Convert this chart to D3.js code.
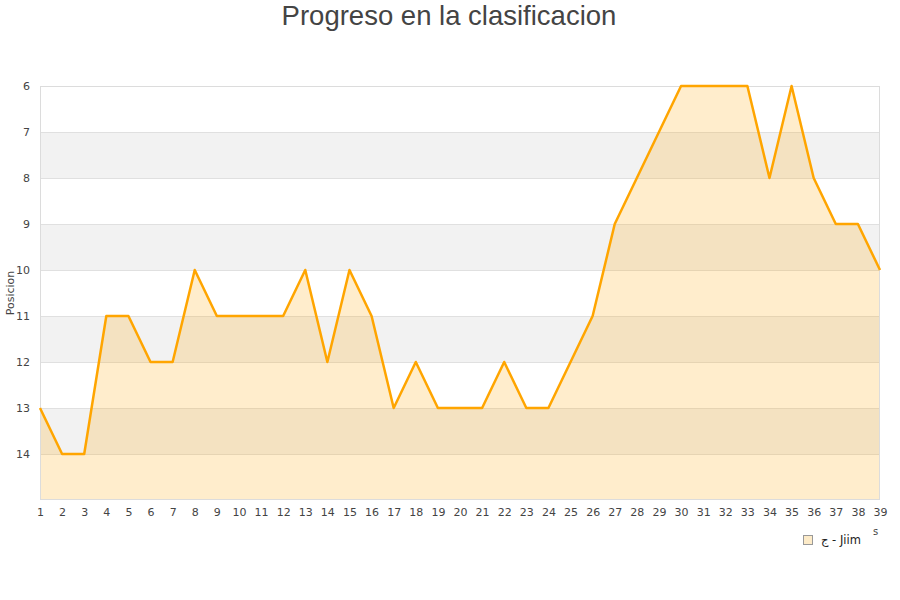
<!DOCTYPE html>
<html><head><meta charset="utf-8">
<script src="https://cdn.jsdelivr.net/npm/d3@7"></script>
<style>body{margin:0;background:#fff;} svg{display:block;}</style>
</head><body>
<svg id="c" width="900" height="600"></svg>
<script>
const rounds = d3.range(1, 40);
const positions = [13,14,14,11,11,12,12,10,11,11,11,11,10,12,10,11,13,12,13,13,13,12,13,13,12,11,9,8,7,6,6,6,6,8,6,8,9,9,10];
const yTicks = [6,7,8,9,10,11,12,13,14];
const seriesName = "ج - Jiim";
const title = "Progreso en la clasificacion";
const yTitle = "Posicion";

const svg = d3.select("#c");
const m = {l:40, r:880, t:86, b:500};
const x = d3.scaleLinear().domain([1,39]).range([m.l, m.r]);
const y = d3.scaleLinear().domain([6,15]).range([m.t, m.b]);

const bands = d3.range(6,15);
svg.selectAll("rect.band").data(bands).enter().append("rect")
  .attr("x", m.l).attr("width", m.r-m.l)
  .attr("y", d=>y(d)).attr("height", d=>y(d+1)-y(d))
  .attr("fill", (d,i)=> i%2===1 ? "#f2f2f2" : "#ffffff");
svg.selectAll("line.grid").data(yTicks).enter().append("line")
  .attr("x1", m.l).attr("x2", m.r).attr("y1", d=>y(d)).attr("y2", d=>y(d))
  .attr("stroke", "#e0e0e0").attr("stroke-width", 1).attr("shape-rendering","crispEdges");

const data = rounds.map((r,i)=>({r, p: positions[i]}));
const area = d3.area().x(d=>x(d.r)).y0(y(15)).y1(d=>y(d.p));
svg.append("path").datum(data).attr("d", area).attr("fill", "rgba(255,165,0,0.2)");
svg.append("rect").attr("x", m.l+0.5).attr("y", m.t+0.5).attr("width", m.r-m.l-1).attr("height", m.b-m.t-1)
  .attr("fill","none").attr("stroke","#dcdcdc").attr("stroke-width",1);
const line = d3.line().x(d=>x(d.r)).y(d=>y(d.p));
svg.append("path").datum(data).attr("d", line).attr("fill","none")
  .attr("stroke","#FFA500").attr("stroke-width",2.5).attr("stroke-linejoin","round");

const yAxis = d3.axisLeft(y).tickValues(yTicks).tickSize(0).tickPadding(10);
const gy = svg.append("g").attr("transform", `translate(${m.l},0)`).call(yAxis);
gy.select(".domain").remove();
gy.selectAll("text").attr("font-family","DejaVu Sans, sans-serif").attr("font-size",11).attr("fill","#444");

const xAxis = d3.axisBottom(x).tickValues(rounds).tickFormat(d3.format("d")).tickSize(0).tickPadding(8);
const gx = svg.append("g").attr("transform", `translate(0,${m.b})`).call(xAxis);
gx.select(".domain").remove();
gx.selectAll("text").attr("font-family","DejaVu Sans, sans-serif").attr("font-size",11).attr("fill","#444");

svg.append("text").attr("x",449).attr("y",25).attr("text-anchor","middle")
  .attr("font-family","Liberation Sans, Arial, sans-serif").attr("font-size",27.5).attr("fill","#444").text(title);
svg.append("text").attr("transform","translate(14,293) rotate(-90)").attr("text-anchor","middle")
  .attr("font-family","DejaVu Sans, sans-serif").attr("font-size",11).attr("fill","#444").text(yTitle);

svg.append("rect").attr("x",803.5).attr("y",535.5).attr("width",9).attr("height",9)
  .attr("fill","#fdebc8").attr("stroke","#999").attr("stroke-width",1);
svg.append("text").attr("x",821).attr("y",544).attr("font-family","DejaVu Sans, sans-serif")
  .attr("font-size",11.5).attr("fill","#222").text(seriesName);
svg.append("text").attr("x",873).attr("y",535).attr("font-family","DejaVu Sans, sans-serif")
  .attr("font-size",10).attr("fill","#444").text("s");
</script>
</body></html>
